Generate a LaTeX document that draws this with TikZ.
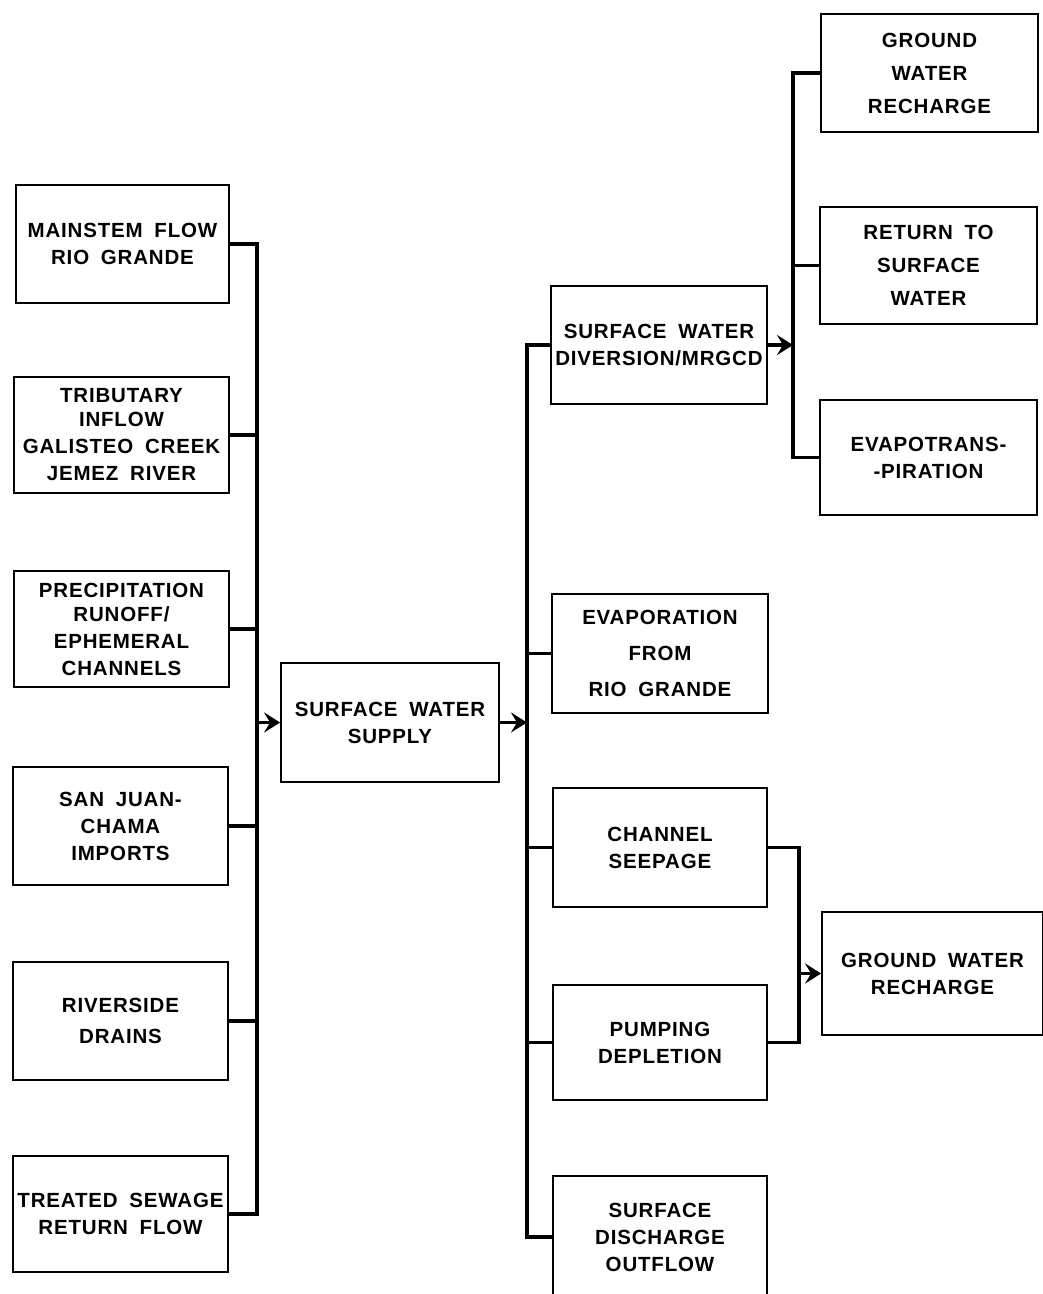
\documentclass[tikz,border=0pt]{standalone}
\usepackage{fontspec}
\setmainfont{Liberation Sans}[LetterSpace=4, WordSpace=1.8]
\usetikzlibrary{arrows.meta}
\begin{document}
\begin{tikzpicture}[x=1pt,y=-1pt,
  box/.style={draw, line width=1.8pt, rectangle, inner sep=0pt, align=center,
    font=\fontsize{20.5}{27}\selectfont\bfseries},
  bus/.style={line width=3.8pt, line join=miter},
  arr/.style={bus, -{Stealth[length=16pt,width=20pt,inset=6pt]}}]
\useasboundingbox[fill=white] (0,0) rectangle (1043,1294);

% left column
\node[box, minimum width=213pt, minimum height=118pt] (main) at (122.5,244) {MAINSTEM FLOW\\RIO GRANDE};
\node[box, minimum width=215pt, minimum height=116pt] (trib) at (121.5,435) {TRIBUTARY\\[-3pt]INFLOW\\GALISTEO CREEK\\JEMEZ RIVER};
\node[box, minimum width=215pt, minimum height=116pt] (prec) at (121.5,629) {PRECIPITATION\\[-3pt]RUNOFF/\\EPHEMERAL\\CHANNELS};
\node[box, minimum width=215pt, minimum height=118pt] (sanj) at (120.5,826) {SAN JUAN-\\CHAMA\\IMPORTS};
\node[box, minimum width=215pt, minimum height=118pt] (river) at (120.5,1021) {RIVERSIDE\\[4pt]DRAINS};
\node[box, minimum width=215pt, minimum height=116pt] (treat) at (120.5,1214) {TREATED SEWAGE\\RETURN FLOW};

% centre
\node[box, minimum width=218pt, minimum height=119pt] (supply) at (390,722.5) {SURFACE WATER\\SUPPLY};

% middle column
\node[box, minimum width=216pt, minimum height=118pt] (div) at (659,345) {SURFACE WATER\\DIVERSION/MRGCD};
\node[box, minimum width=216pt, minimum height=119pt] (evap) at (660,653.5) {EVAPORATION\\[9pt]FROM\\[9pt]RIO GRANDE};
\node[box, minimum width=214pt, minimum height=119pt] (chan) at (660,847.5) {CHANNEL\\SEEPAGE};
\node[box, minimum width=214pt, minimum height=115pt] (pump) at (660,1042.5) {PUMPING\\DEPLETION};
\node[box, minimum width=214pt, minimum height=122pt] (disch) at (660,1237) {SURFACE\\DISCHARGE\\OUTFLOW};

% right column
\node[box, minimum width=217pt, minimum height=118pt] (gw1) at (929.5,73) {GROUND\\[6pt]WATER\\[6pt]RECHARGE};
\node[box, minimum width=217pt, minimum height=117pt] (ret) at (928.5,265.5) {RETURN TO\\[6pt]SURFACE\\[6pt]WATER};
\node[box, minimum width=217pt, minimum height=115pt] (evt) at (928.5,457.5) {EVAPOTRANS-\\-PIRATION};
\node[box, minimum width=221pt, minimum height=123pt] (gw2) at (932.5,973.5) {GROUND WATER\\RECHARGE};

% buses
\coordinate (bL) at (257,0);
\coordinate (bM) at (527,0);
\coordinate (bR) at (793,0);
\coordinate (bR2) at (799,0);

\draw[bus] (main.east) -- (main.east -| bL) -- (treat.east -| bL) -- (treat.east);
\foreach \n in {trib,prec,sanj,river} \draw[bus] (\n.east) -- (\n.east -| bL);
\draw[arr] (supply.west -| bL) -- (supply.west);

\draw[bus] (div.west) -- (div.west -| bM) -- (disch.west -| bM) -- (disch.west);
\foreach \n in {evap,chan,pump} \draw[bus] (\n.west) -- (\n.west -| bM);
\draw[arr] (supply.east) -- (supply.east -| bM);

\draw[bus] (gw1.west) -- (gw1.west -| bR) -- (evt.west -| bR) -- (evt.west);
\draw[bus] (ret.west) -- (ret.west -| bR);
\draw[arr] (div.east) -- (div.east -| bR);

\draw[bus, line width=3.2pt] (chan.east) -- (chan.east -| bR2) -- (pump.east -| bR2) -- (pump.east);
\draw[arr, line width=3.2pt] (gw2.west -| bR2) -- (gw2.west);
\end{tikzpicture}
\end{document}
